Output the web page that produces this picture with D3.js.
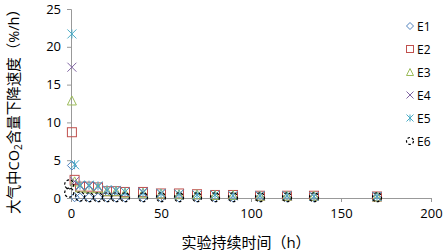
<!DOCTYPE html>
<html>
<head>
<meta charset="utf-8">
<script src="https://cdn.jsdelivr.net/npm/d3@7"></script>
<style>
  body { margin: 0; background: #fff; }
  text { font-family: "Open Sans", "Noto Sans CJK SC", sans-serif; }
</style>
</head>
<body>
<svg width="444" height="252"></svg>
<script>
// hours
const times = [0.5, 2, 5, 10, 15, 20, 25, 30, 40, 50, 60, 70, 80, 90, 105, 120, 135, 170];
const seriesNames = ["E1", "E2", "E3", "E4", "E5", "E6"];
const e1 = [4.3, 0.1, 0.05, 0.05, 0.05, 0.05, 0.05, 0.05, 0.05, 0.05, 0.05, 0.05, 0.05, 0.05, 0.05, 0.05, 0.05, 0.05];
const e2 = [8.7, 2.4, 1.5, 1.5, 1.4, 0.9, 0.9, 0.8, 0.8, 0.6, 0.6, 0.5, 0.4, 0.4, 0.3, 0.3, 0.3, 0.2];
const e3 = [12.9, 2.2, 1.4, 1.3, 1.3, 0.9, 0.9, 0.7, 0.7, 0.6, 0.5, 0.5, 0.4, 0.4, 0.3, 0.3, 0.3, 0.2];
const e4 = [17.3, 2.2, 1.6, 1.6, 1.5, 1.0, 1.0, 0.8, 0.8, 0.6, 0.5, 0.4, 0.4, 0.3, 0.3, 0.3, 0.2, 0.2];
const e5 = [21.7, 4.4, 1.7, 1.7, 1.6, 1.1, 1.0, 0.8, 0.7, 0.6, 0.5, 0.4, 0.4, 0.3, 0.3, 0.3, 0.2, 0.2];
const e6 = [1.8, 0.7, 0.2, 0.1, 0.1, 0.1, 0.1, 0.1, 0.1, 0.1, 0.1, 0.1, 0.1, 0.1, 0.1, 0.1, 0.1, 0.1];
const e6Times = [-1, -1, 5, 10, 15, 20, 25, 30, 40, 50, 60, 70, 80, 90, 105, 120, 135, 170];
const xTicks = [0, 50, 100, 150, 200];
const yTicks = [0, 5, 10, 15, 20, 25];

const colors = ["#4F81BD", "#C0504D", "#9BBB59", "#8064A2", "#4BACC6", "#000000"];
const allValues = [e1, e2, e3, e4, e5, e6];

const svg = d3.select("svg");
const x = d3.scaleLinear().domain([0, 200]).range([71, 431]);
const y = d3.scaleLinear().domain([0, 25]).range([198, 9]);

// axes
const xAxis = svg.append("g")
  .attr("transform", `translate(0,${y(0)})`)
  .call(d3.axisBottom(x).tickValues(xTicks).tickSize(4).tickPadding(7));
const yAxis = svg.append("g")
  .attr("transform", `translate(${x(0)},0)`)
  .call(d3.axisLeft(y).tickValues(yTicks).tickSize(4).tickPadding(6));
[xAxis, yAxis].forEach(a => {
  a.select(".domain").attr("stroke", "#999");
  a.selectAll(".tick line").attr("stroke", "#999");
  a.selectAll(".tick text").attr("font-size", 13).attr("fill", "#000");
});

// marker drawing
function marker(g, i, s) {
  const c = colors[i];
  if (i === 0) {
    g.append("path").attr("d", `M0,${-s}L${s},0L0,${s}L${-s},0Z`)
      .attr("fill", "none").attr("stroke", c).attr("stroke-width", 1);
  } else if (i === 1) {
    g.append("rect").attr("x", -s).attr("y", -s).attr("width", 2 * s).attr("height", 2 * s)
      .attr("fill", "none").attr("stroke", c).attr("stroke-width", 1);
  } else if (i === 2) {
    g.append("path").attr("d", `M0,${-s}L${s},${s}L${-s},${s}Z`)
      .attr("fill", "none").attr("stroke", c).attr("stroke-width", 1);
  } else if (i === 3) {
    g.append("path").attr("d", `M${-s},${-s}L${s},${s}M${s},${-s}L${-s},${s}`)
      .attr("stroke", c).attr("stroke-width", 1);
  } else if (i === 4) {
    g.append("path").attr("d", `M${-s},${-s}L${s},${s}M${s},${-s}L${-s},${s}M0,${-s}L0,${s}`)
      .attr("stroke", c).attr("stroke-width", 1);
  } else {
    g.append("circle").attr("r", s).attr("fill", "none").attr("stroke", c)
      .attr("stroke-width", 1.2).attr("stroke-dasharray", "2.5,2");
  }
}

// points
allValues.forEach((vals, i) => {
  const ts = i === 5 ? e6Times : times;
  const g = svg.append("g");
  vals.forEach((v, j) => {
    const pt = g.append("g").attr("transform", `translate(${x(ts[j])},${y(v)})`);
    marker(pt, i, 4.5);
  });
});

// legend
seriesNames.forEach((name, i) => {
  const ly = 26 + i * 23;
  const lg = svg.append("g").attr("transform", `translate(410,${ly})`);
  marker(lg, i, 3.5);
  lg.append("text").attr("x", 7).attr("y", 4.5).attr("font-size", 12).text(name);
});

// axis titles
svg.append("text")
  .attr("x", 246).attr("y", 248)
  .attr("text-anchor", "middle").attr("font-size", 15)
  .attr("font-family", "Noto Sans CJK SC")
  .text("实验持续时间（h）");

const yt = svg.append("text")
  .attr("transform", "translate(19,108) rotate(-90)")
  .attr("text-anchor", "middle").attr("font-size", 14.5)
  .attr("font-family", "Noto Sans CJK SC");
yt.append("tspan").text("大气中CO");
yt.append("tspan").attr("font-size", 10).attr("dy", 3).text("2");
yt.append("tspan").attr("dy", -3).text("含量下降速度（%/h）");
</script>
</body>
</html>
